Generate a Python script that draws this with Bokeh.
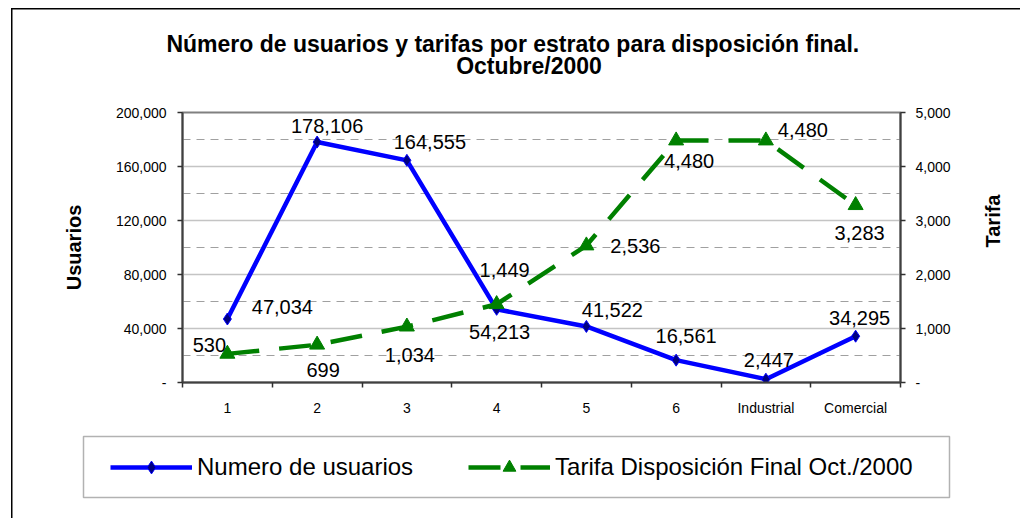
import math
from bokeh.plotting import figure
from bokeh.layouts import column
from bokeh.models import (Range1d, LinearAxis, FixedTicker, NumeralTickFormatter,
                          Legend, LegendItem, Label, BoxAnnotation, ColumnDataSource)
from bokeh.embed import file_html
from bokeh.resources import INLINE
from bokeh.core.properties import value

# ---- data ----
categories = ["1", "2", "3", "4", "5", "6", "Industrial", "Comercial"]
usuarios = [47034, 178106, 164555, 54213, 41522, 16561, 2447, 34295]
tarifa = [530, 699, 1034, 1449, 2536, 4480, 4480, 3283]
usuarios_ticks = [0, 40000, 80000, 120000, 160000, 200000]
tarifa_ticks = [0, 1000, 2000, 3000, 4000, 5000]
title_lines = ["Número de usuarios y tarifas por estrato para disposición  final.", "Octubre/2000"]
serie_usuarios = "Numero de usuarios"
serie_tarifa = "Tarifa Disposición Final Oct./2000"
eje_izq = "Usuarios"
eje_der = "Tarifa"

# ---- label offsets (screen px: dx right, dy up) ----
u_dx = [55, 10, 23, 3, 26, 10, 3, 4]
u_dy = [12, 16, 18, -23, 16, 24, 19, 18]
t_dx = [-18, 6, 3, 8, 49, 13, 37, 4]
t_dy = [9, -25, -28, 34, 0, -20, 11, -28]

FONT = "Liberation Sans"
W = 1020
H_T, H_M, H_L = 90, 330, 98          # title strip, chart, legend strip
FL, FR = 182, 900                    # plot frame left/right on the page
FT, FB = 112 - H_T, 382 - H_T        # plot frame top/bottom inside chart figure

def border_style(top):
    if top:
        return {"background-image": "linear-gradient(#000, #000), linear-gradient(#000, #000)",
                "background-size": "1.5px 100%, 100% 1.5px",
                "background-position": "11px 8px, 11px 8px",
                "background-repeat": "no-repeat"}
    return {"background-image": "linear-gradient(#000, #000)",
            "background-size": "1.5px 100%",
            "background-position": "11px 0px",
            "background-repeat": "no-repeat"}

def strip(height, top_border):
    f = figure(width=W, height=height, output_backend="svg", toolbar_location=None,
               x_range=Range1d(0, W), y_range=Range1d(height, 0), min_border=0,
               x_axis_location=None, y_axis_location=None)
    f.outline_line_color = None
    f.grid.visible = False
    f.border_fill_color = None
    f.background_fill_color = None
    f.styles = border_style(top_border)
    return f

# ================= title strip =================
pt = strip(H_T, True)
for txt, cx, cy in zip(title_lines, [515.5, 528.5], [43, 65]):
    pt.add_layout(Label(x=cx, y=cy, text=txt, text_align="center", text_baseline="middle",
                        text_font=FONT, text_font_size="23px", text_font_style="bold",
                        text_color="black"))

# ================= chart =================
xs = [i + 0.5 for i in range(len(categories))]

p = figure(width=W, height=H_M, output_backend="svg", toolbar_location=None,
           x_range=Range1d(0, len(categories)), y_range=Range1d(0, 200000),
           min_border_left=FL, min_border_right=W - FR, min_border_top=FT,
           min_border_bottom=H_M - FB)
p.extra_y_ranges = {"tarifa": Range1d(0, 5000)}
p.outline_line_color = "#808080"
p.outline_line_width = 2
p.background_fill_color = "white"
p.border_fill_color = None
p.styles = border_style(False)

# x axis
xa = p.xaxis[0]
xa.ticker = FixedTicker(ticks=xs, minor_ticks=list(range(len(categories) + 1)))
xa.major_label_overrides = {x: c for x, c in zip(xs, categories)}
xa.major_tick_out = 0
xa.major_tick_in = 0
xa.minor_tick_out = 5
xa.minor_tick_in = 0
xa.minor_tick_line_color = "#303030"
xa.minor_tick_line_width = 1.5
xa.major_label_standoff = 12
xa.major_label_text_font = FONT
xa.major_label_text_font_size = "14px"
xa.major_label_text_color = "black"
xa.axis_line_color = "#404040"
xa.axis_line_width = 2

# left axis
ya = p.yaxis[0]
ya.ticker = FixedTicker(ticks=usuarios_ticks)
ya.formatter = NumeralTickFormatter(format="0,0")
ya.major_label_overrides = {0: "-"}
ya.major_tick_out = 5
ya.major_tick_in = 0
ya.minor_tick_out = 0
ya.minor_tick_in = 0
ya.major_tick_line_color = "#303030"
ya.major_tick_line_width = 1.5
ya.major_label_standoff = 11
ya.major_label_text_font = FONT
ya.major_label_text_font_size = "14px"
ya.major_label_text_color = "black"
ya.axis_line_color = "#404040"
ya.axis_line_width = 2
ya.axis_label = eje_izq
ya.axis_label_text_font = FONT
ya.axis_label_text_font_style = "bold"
ya.axis_label_text_font_size = "20px"
ya.axis_label_text_color = "black"
ya.axis_label_standoff = 28

# right axis
ra = LinearAxis(y_range_name="tarifa", ticker=FixedTicker(ticks=tarifa_ticks),
                formatter=NumeralTickFormatter(format="0,0"))
ra.major_label_overrides = {0: "-"}
ra.major_tick_out = 5
ra.major_tick_in = 0
ra.minor_tick_out = 0
ra.minor_tick_in = 0
ra.major_tick_line_color = "#303030"
ra.major_tick_line_width = 1.5
ra.major_label_standoff = 10
ra.major_label_text_font = FONT
ra.major_label_text_font_size = "14px"
ra.major_label_text_color = "black"
ra.axis_line_color = "#404040"
ra.axis_line_width = 2
ra.axis_label = eje_der
ra.axis_label_text_font = FONT
ra.axis_label_text_font_style = "bold"
ra.axis_label_text_font_size = "20px"
ra.axis_label_text_color = "black"
ra.axis_label_standoff = 39
if "axis_label_orientation" in LinearAxis.properties():
    ra.axis_label_orientation = math.pi / 2
p.add_layout(ra, "right")

# grids
p.xgrid.visible = False
p.ygrid.ticker = FixedTicker(ticks=usuarios_ticks[1:-1],
                             minor_ticks=[(a + b) / 2 for a, b in zip(usuarios_ticks[:-1], usuarios_ticks[1:])])
p.ygrid.grid_line_color = "#c4c4c4"
p.ygrid.grid_line_width = 1.5
p.ygrid.minor_grid_line_color = "#a0a0a0"
p.ygrid.minor_grid_line_width = 1.2
p.ygrid.minor_grid_line_dash = "8 6"

# series
src = ColumnDataSource(dict(x=xs, u=usuarios, t=tarifa,
                            ul=[f"{v:,}" for v in usuarios], tl=[f"{v:,}" for v in tarifa],
                            udx=u_dx, udy=[-d for d in u_dy], tdx=t_dx, tdy=[-d for d in t_dy]))

U_LINE = dict(line_color="#0000FF", line_width=4.5)
U_MARK = dict(marker="diamond", size=12, fill_color="#000080", line_color="#0000FF", line_width=1)
T_LINE = dict(line_color="#008000", line_width=4.5, line_dash="32 20")
T_MARK = dict(marker="triangle", size=15, fill_color="#008000", line_color="#008000")

p.line("x", "u", source=src, **U_LINE)
p.scatter("x", "u", source=src, **U_MARK)
p.line("x", "t", source=src, y_range_name="tarifa", **T_LINE)
p.scatter("x", "t", source=src, y_range_name="tarifa", **T_MARK)

p.text("x", "u", text="ul", source=src, x_offset="udx", y_offset="udy",
       text_align="center", text_baseline="middle", text_font=value(FONT),
       text_font_size="20px", text_color="black")
p.text("x", "t", text="tl", source=src, y_range_name="tarifa", x_offset="tdx", y_offset="tdy",
       text_align="center", text_baseline="middle", text_font=value(FONT),
       text_font_size="20px", text_color="black")

# ================= legend strip =================
pl = strip(H_L, False)

# legend sample renderers (same series; they fall outside this strip's view)
r1 = pl.line("x", "u", source=src, **U_LINE)
m1 = pl.scatter("x", "u", source=src, **U_MARK)
r2 = pl.line("x", "t", source=src, **T_LINE)
m2 = pl.scatter("x", "t", source=src, **T_MARK)

pl.add_layout(BoxAnnotation(left=83, right=949, top=436 - 420, bottom=497 - 420,
                            fill_alpha=0, line_color="black", line_width=1.5))
legend = Legend(items=[LegendItem(label=serie_usuarios, renderers=[r1, m1]),
                       LegendItem(label=serie_tarifa, renderers=[r2, m2])],
                orientation="horizontal", location=(110, H_L - (467 - 420) - 16),
                padding=0, margin=0, spacing=55, glyph_width=82, glyph_height=32,
                label_standoff=5, label_text_font=FONT, label_text_font_size="24px",
                label_text_color="black", border_line_color=None, background_fill_alpha=0)
pl.add_layout(legend)

# the chart is wrapped on its own so that the strips keep full-width frames
root = column(pt, column(p, spacing=0), pl, spacing=0)
open("out.html", "w").write(file_html(root, INLINE))
